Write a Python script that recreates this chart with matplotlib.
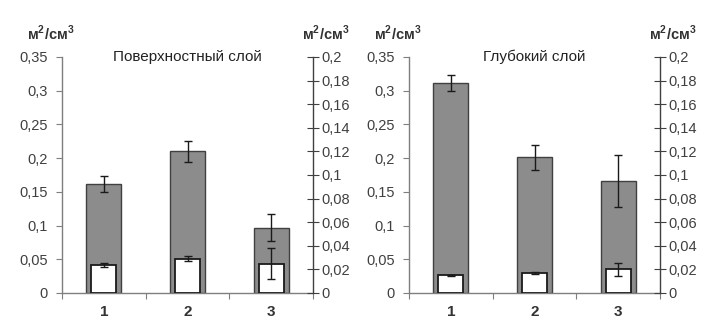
import matplotlib
matplotlib.use("Agg")
import matplotlib.pyplot as plt
import numpy as np

plt.rcParams['font.family'] = ['Liberation Sans', 'DejaVu Sans']
plt.rcParams['mathtext.fontset'] = 'custom'
plt.rcParams['mathtext.rm'] = 'Liberation Sans'
plt.rcParams['mathtext.bf'] = 'Liberation Sans:bold'

categories = ["1", "2", "3"]
titles = ["Поверхностный слой", "Глубокий слой"]
unit = "м$^\\mathbf{2}$/см$^\\mathbf{3}$"

# gray bars (left axis, 0-0.35)
gray_vals = [[0.162, 0.210, 0.097], [0.311, 0.201, 0.166]]
gray_err = [[0.012, 0.015, 0.020], [0.012, 0.018, 0.038]]
# white bars (right axis, 0-0.2)
white_vals = [[0.024, 0.029, 0.025], [0.015, 0.017, 0.020]]
white_err = [[0.0017, 0.002, 0.013], [0.0005, 0.001, 0.0055]]

left_ticks = [0, 0.05, 0.1, 0.15, 0.2, 0.25, 0.3, 0.35]
right_ticks = [0, 0.02, 0.04, 0.06, 0.08, 0.1, 0.12, 0.14, 0.16, 0.18, 0.2]

def fmt(v):
    s = ("%.2f" % v).rstrip('0').rstrip('.')
    return s.replace('.', ',')

fig = plt.figure(figsize=(7.27, 3.32), dpi=100)
axes_left = [62 / 727, 409 / 727]
W, H = 727, 332
axc = '#7f7f7f'
txtc = '#404040'

for i in range(2):
    ax = fig.add_axes([axes_left[i], (332 - 293) / H, 251 / W, 236 / H])
    x = np.arange(len(categories))
    ax.bar(x, gray_vals[i], width=0.42, color='#8c8c8c', edgecolor='#404040', linewidth=1.0, zorder=2)
    ax.errorbar(x, gray_vals[i], yerr=gray_err[i], fmt='none', ecolor='#1a1a1a', elinewidth=1.0, capsize=3, capthick=1.0, zorder=3)
    ax.set_ylim(0, 0.35)
    ax.set_xlim(-0.5, 2.5)
    ax.set_yticks(left_ticks)
    ax.set_yticklabels([fmt(v) for v in left_ticks], fontsize=10.5, color=txtc)
    ax.set_xticks([-0.5, 0.5, 1.5, 2.5])
    ax.set_xticklabels([])
    ax.set_xticks(x, minor=True)
    ax.set_xticklabels(categories, minor=True, fontsize=11, fontweight='bold', color='#333333')
    ax.tick_params(axis='x', which='minor', length=0, pad=9)
    ax.tick_params(axis='x', which='major', direction='out', length=4, color=axc)
    ax.tick_params(axis='y', direction='out', length=4, color=axc, pad=6)
    for s in ['top', 'right']:
        ax.spines[s].set_visible(False)
    for s in ['left', 'bottom']:
        ax.spines[s].set_color(axc)
        ax.spines[s].set_linewidth(1.0)

    ax2 = ax.twinx()
    ax2.bar(x, white_vals[i], width=0.30, color='white', edgecolor='#1a1a1a', linewidth=1.3, zorder=2)
    ax2.errorbar(x, white_vals[i], yerr=white_err[i], fmt='none', ecolor='#1a1a1a', elinewidth=1.0, capsize=3, capthick=1.0, zorder=3)
    ax2.set_ylim(0, 0.2)
    ax2.set_yticks(right_ticks)
    ax2.set_yticklabels([fmt(v) for v in right_ticks], fontsize=10.5, color=txtc)
    ax2.tick_params(axis='y', direction='inout', length=8, color='#404040', pad=2)
    for s in ['top', 'left', 'bottom']:
        ax2.spines[s].set_visible(False)
    ax2.spines['right'].set_color('#404040')
    ax2.spines['right'].set_linewidth(1.0)

    ax.text(0.5, 1.0, titles[i], transform=ax.transAxes, ha='center', va='center',
            fontsize=11, color='#222222')
    ax.text(-35 / 251, 1.1, unit, transform=ax.transAxes, ha='left', va='center',
            fontsize=10.5, color='#333333', fontweight='bold')
    ax2.text(1 - 11 / 251, 1.1, unit, transform=ax.transAxes, ha='left', va='center',
             fontsize=10.5, color='#333333', fontweight='bold')

fig.savefig('out.png', dpi=100, facecolor='white')
